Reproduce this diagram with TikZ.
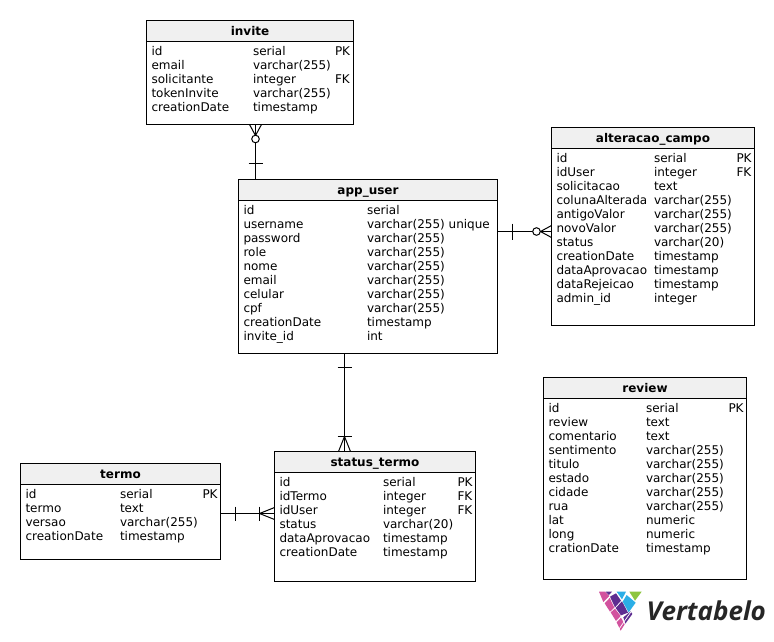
\documentclass[tikz,border=0pt]{standalone}
\usepackage{fontspec}
\setmainfont{DejaVu Sans}
\newfontfamily\logofont{Open Sans}
\definecolor{hdr}{HTML}{F0F0F0}
\definecolor{lpink}{HTML}{D2529E}
\definecolor{lpurple}{HTML}{5E2D91}
\definecolor{lblue}{HTML}{2BAEE6}
\definecolor{lgreen}{HTML}{8DC63F}
\tikzset{
  x=1pt,y=-1pt,
  tablebox/.style={draw=black,line width=1pt,fill=white,rectangle,inner sep=0pt,outer sep=0pt,anchor=north west},
  headbox/.style={draw=black,line width=1pt,fill=hdr,rectangle,inner sep=0pt,outer sep=0pt,anchor=north west,minimum height=21pt,text height=9pt,text depth=0pt,font=\fontsize{12}{14}\selectfont\bfseries},
  coltext/.style={anchor=base west,inner sep=0pt,outer sep=0pt,font=\fontsize{12}{14}\selectfont},
  conn/.style={line width=1pt,draw=black},
}
% name, x, y, w, h, title
\newcommand{\tablebox}[6]{%
  \node[tablebox,minimum width=#4pt,minimum height=#5pt] (#1) at (#2,#3) {};
  \node[headbox,minimum width=#4pt] (#1h) at (#2,#3) {#6};
}
\newcommand{\coltxt}[4]{\node[coltext] (#1) at (#2,#3) {\begin{tabular}[t]{@{}l@{}}#4\end{tabular}};}
\begin{document}
\begin{tikzpicture}
\useasboundingbox (0,0) rectangle (774,641);
\fill[white] (0,0) rectangle (774,641);

\tablebox{invite}{146.5}{20.5}{207}{104}{invite}
\coltxt{inviteA}{151.5}{55}{id\\email\\solicitante\\tokenInvite\\creationDate}
\coltxt{inviteB}{253}{55}{serial\\varchar(255)\\integer\\varchar(255)\\timestamp}
\coltxt{inviteC}{335}{55}{PK\\\\FK}

\tablebox{alt}{551.5}{127.5}{203}{198}{alteracao\_campo}
\coltxt{altA}{556.5}{162}{id\\idUser\\solicitacao\\colunaAlterada\\antigoValor\\novoValor\\status\\creationDate\\dataAprovacao\\dataRejeicao\\admin\_id}
\coltxt{altB}{654}{162}{serial\\integer\\text\\varchar(255)\\varchar(255)\\varchar(255)\\varchar(20)\\timestamp\\timestamp\\timestamp\\integer}
\coltxt{altC}{736.5}{162}{PK\\FK}

\tablebox{app}{238.5}{179.5}{259}{174}{app\_user}
\coltxt{appA}{243.5}{214}{id\\username\\password\\role\\nome\\email\\celular\\cpf\\creationDate\\invite\_id}
\coltxt{appB}{367}{214}{serial\\varchar(255) unique\\varchar(255)\\varchar(255)\\varchar(255)\\varchar(255)\\varchar(255)\\varchar(255)\\timestamp\\int}

\tablebox{review}{543.5}{377.5}{203}{202}{review}
\coltxt{reviewA}{548.5}{412}{id\\review\\comentario\\sentimento\\titulo\\estado\\cidade\\rua\\lat\\long\\crationDate}
\coltxt{reviewB}{646}{412}{serial\\text\\text\\varchar(255)\\varchar(255)\\varchar(255)\\varchar(255)\\varchar(255)\\numeric\\numeric\\timestamp}
\coltxt{reviewC}{728.5}{412}{PK}

\tablebox{status}{274.5}{451.5}{201}{130}{status\_termo}
\coltxt{statusA}{279.5}{486}{id\\idTermo\\idUser\\status\\dataAprovacao\\creationDate}
\coltxt{statusB}{383}{486}{serial\\integer\\integer\\varchar(20)\\timestamp\\timestamp}
\coltxt{statusC}{457.5}{486}{PK\\FK\\FK}

\tablebox{termo}{20.5}{463.5}{200}{96}{termo}
\coltxt{termoA}{25.5}{498}{id\\termo\\versao\\creationDate}
\coltxt{termoB}{120}{498}{serial\\text\\varchar(255)\\timestamp}
\coltxt{termoC}{202.5}{498}{PK}

% connectors
\coordinate (xa) at (255.5,0);
\coordinate (ya) at (0,231.5);
\coordinate (xb) at (344.5,0);
\coordinate (yb) at (0,513.5);
\draw[conn] (invite.south -| xa) -- (app.north -| xa);
\draw[conn] (app.east |- ya) -- (alt.west |- ya);
\draw[conn] (app.south -| xb) -- (status.north -| xb);
\draw[conn] (termo.east |- yb) -- (status.west |- yb);

% invite end: zero-or-many; app_user end: one
\begin{scope}[shift={(255.5,124.5)},conn]
  \draw (-6,0) -- (0,11) -- (6,0);
  \draw[fill=white] (0,14.5) circle[radius=3.8];
  \draw (-7,39) -- (7,39);
\end{scope}
% alteracao end
\begin{scope}[shift={(551.5,231.5)},conn]
  \draw (0,-6) -- (-11,0) -- (0,6);
  \draw[fill=white] (-15,0) circle[radius=3.8];
  \draw (-39,-8) -- (-39,8);
\end{scope}
% app_user -> status_termo
\begin{scope}[shift={(344.5,451.5)},conn]
  \draw (-6,0) -- (0,-15) -- (6,0);
  \draw (-7,-15) -- (7,-15);
  \draw (-7,-84) -- (7,-84);
\end{scope}
% termo -> status_termo
\begin{scope}[shift={(274.5,513.5)},conn]
  \draw (0,-6) -- (-15,0) -- (0,6);
  \draw (-15,-7) -- (-15,7);
  \draw (-39,-7) -- (-39,7);
\end{scope}

% logo
\begin{scope}[shift={(590,580)},x=0.3333pt,y=-0.3333pt]
  \fill[lpink] (27,35) -- (45,35) -- (58,48) -- (40,66) -- cycle;
  \fill[lpurple] (47,35) -- (66,35) -- (57,45) -- cycle;
  \fill[lpurple] (60,50) -- (78,40) -- (93,62) -- (75,82) -- cycle;
  \fill[lblue] (80,35) -- (108,35) -- (96,58) -- cycle;
  \fill[lgreen] (118,35) -- (155,35) -- (135,62) -- cycle;
  \fill[lblue] (110,45) -- (137,68) -- (116,97) -- (98,65) -- cycle;
  \fill[lpurple] (77,84) -- (96,64) -- (114,98) -- (93,106) -- cycle;
  \fill[lpink] (62,97) -- (75,86) -- (92,108) -- (78,123) -- cycle;
  \fill[lpink] (44,70) -- (59,54) -- (73,83) -- (60,95) -- cycle;
  \fill[lpurple] (100,112) -- (122,94) -- (127,102) -- (106,131) -- cycle;
  \fill[lpink] (80,127) -- (93,113) -- (104,133) -- (92,152) -- cycle;
  \draw[white,line width=0.7pt] (160,42) -- (85,150);
\end{scope}
\node[anchor=base west,inner sep=0pt,font=\logofont\fontsize{26}{26}\selectfont\bfseries\itshape,text=black!85] (logo) at (646.5,620) {Vertabelo};
\end{tikzpicture}
\end{document}
